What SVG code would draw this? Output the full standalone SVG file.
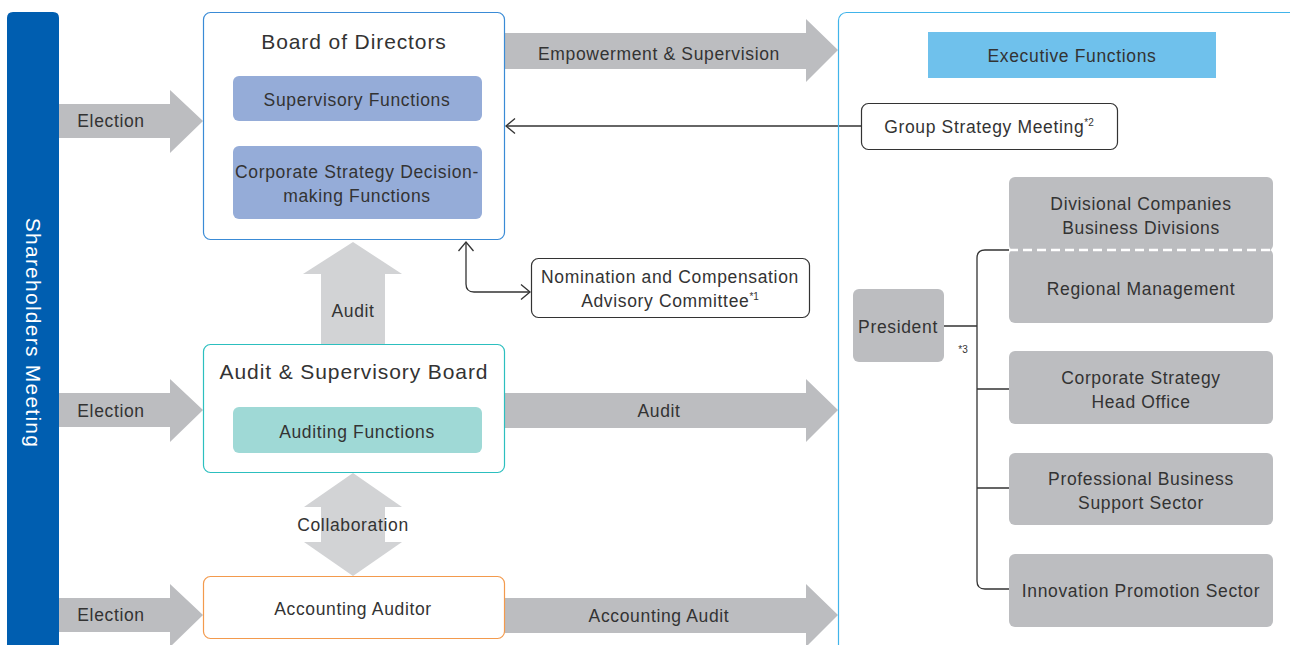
<svg xmlns="http://www.w3.org/2000/svg" width="1290" height="645" viewBox="0 0 1290 645">
<defs>
<style>
.t{font-family:"Liberation Sans",Arial,sans-serif;fill:#333;text-anchor:middle;font-size:17.5px;letter-spacing:0.65px}
.h{font-size:21px;letter-spacing:0.9px}
.sh{font-size:21px;letter-spacing:1.25px;fill:#fff}
.sup{font-size:10px;letter-spacing:0}
.big{fill:#bcbdc0}
.lt{fill:#d2d3d5}
.ln{fill:none;stroke:#333;stroke-width:1.3}
.gb{fill:#bcbdc0}
</style>
<marker id="chev" viewBox="-12 -9 14 18" refX="0" refY="0" markerWidth="14" markerHeight="18" orient="auto-start-reverse" markerUnits="userSpaceOnUse">
<path d="M-9,-7.5 L0,0 L-9,7.5" fill="none" stroke="#333" stroke-width="1.3"/>
</marker>
</defs>
<rect width="1290" height="645" fill="#fff"/>

<g id="shareholders">
<path d="M7,645 V18 Q7,12 13,12 H53 Q59,12 59,18 V645 Z" fill="#005eb0"/>
<text class="t sh" transform="translate(26,333) rotate(90)">Shareholders Meeting</text>
</g>

<g id="connectors">
<polygon class="big" points="59,104 170,104 170,90 203,121 170,153 170,138 59,138"/>
<polygon class="big" points="59,393 170,393 170,379 203,410 170,442 170,427 59,427"/>
<polygon class="big" points="59,598 170,598 170,584 203,615 170,647 170,632 59,632"/>
<polygon class="big" points="505,33 806,33 806,19 838,50 806,82 806,69 505,69"/>
<polygon class="big" points="505,393 806,393 806,379 838,410 806,442 806,428 505,428"/>
<polygon class="big" points="505,598 806,598 806,584 838,615 806,647 806,633 505,633"/>
<polygon class="lt" points="353,242 402,274 385,274 385,345 321,345 321,274 303,274"/>
<polygon class="lt" points="353,473 402,507 385,507 385,542 402,542 353,576 304,542 321,542 321,507 304,507"/>
<text class="t" x="111" y="127">Election</text>
<text class="t" x="111" y="417">Election</text>
<text class="t" x="111" y="621">Election</text>
<text class="t" x="659" y="60">Empowerment &amp; Supervision</text>
<text class="t" x="659" y="417">Audit</text>
<text class="t" x="659" y="622">Accounting Audit</text>
<text class="t" x="353" y="317">Audit</text>
<text class="t" x="353" y="531">Collaboration</text>
<path class="ln" d="M861,126 H506" marker-end="url(#chev)"/>
<path class="ln" d="M466,242 V284 Q466,292 474,292 H530" marker-start="url(#chev)" marker-end="url(#chev)"/>
<path class="ln" d="M1009,250 H985 Q977,250 977,258 V581 Q977,589 985,589 H1009"/>
<path class="ln" d="M944,326 H977 M977,389 H1009 M977,488 H1009"/>
<text class="t sup" x="963" y="353">*3</text>
</g>

<g id="board">
<rect x="203.5" y="12.5" width="301" height="227" rx="7" fill="#fff" stroke="#3a8bd6" stroke-width="1.2"/>
<text class="t h" x="354" y="49">Board of Directors</text>
<rect x="233" y="76" width="249" height="45" rx="6" fill="#95acd8"/>
<text class="t" x="357" y="106">Supervisory Functions</text>
<rect x="233" y="146" width="249" height="73" rx="6" fill="#95acd8"/>
<text class="t" x="357" y="178">Corporate Strategy Decision-</text>
<text class="t" x="357" y="202">making Functions</text>
</g>

<g id="asb">
<rect x="203.5" y="344.5" width="301" height="128" rx="7" fill="#fff" stroke="#2cbfbf" stroke-width="1.2"/>
<text class="t h" x="354" y="379">Audit &amp; Supervisory Board</text>
<rect x="233" y="407" width="249" height="46" rx="6" fill="#9fd9d6"/>
<text class="t" x="357" y="438">Auditing Functions</text>
</g>

<g id="accounting-auditor">
<rect x="203.5" y="576.5" width="301" height="62" rx="7" fill="#fff" stroke="#f39a4d" stroke-width="1.2"/>
<text class="t" x="353" y="615">Accounting Auditor</text>
</g>

<g id="nomination">
<rect x="531.5" y="258.5" width="278" height="59" rx="7" fill="#fff" stroke="#333" stroke-width="1.2"/>
<text class="t" x="670" y="283">Nomination and Compensation</text>
<text class="t" x="670" y="307">Advisory Committee<tspan class="sup" dy="-7">*1</tspan></text>
</g>

<g id="executive">
<rect x="838.5" y="12.5" width="470" height="650" rx="8" fill="none" stroke="#41b4ea" stroke-width="1.2"/>
<rect x="928" y="32" width="288" height="46" fill="#6fc1ec"/>
<text class="t" x="1072" y="62">Executive Functions</text>
</g>

<g id="group-strategy">
<rect x="861.5" y="103.5" width="256" height="46" rx="7" fill="#fff" stroke="#333" stroke-width="1.2"/>
<text class="t" x="989" y="133">Group Strategy Meeting<tspan class="sup" dy="-7">*2</tspan></text>
</g>

<g id="president">
<rect class="gb" x="853" y="289" width="91" height="73" rx="6"/>
<text class="t" x="898" y="333">President</text>
</g>

<g id="divisional">
<rect class="gb" x="1009" y="177" width="264" height="74" rx="6"/>
<text class="t" x="1141" y="210">Divisional Companies</text>
<text class="t" x="1141" y="234">Business Divisions</text>
</g>
<g id="regional">
<rect class="gb" x="1009" y="249" width="264" height="74" rx="6"/>
<text class="t" x="1141" y="295">Regional Management</text>
<path d="M1009,250 H1273" stroke="#fff" stroke-width="2.5" stroke-dasharray="9,5" fill="none"/>
</g>
<g id="corporate-strategy">
<rect class="gb" x="1009" y="351" width="264" height="73" rx="6"/>
<text class="t" x="1141" y="384">Corporate Strategy</text>
<text class="t" x="1141" y="408">Head Office</text>
</g>
<g id="professional">
<rect class="gb" x="1009" y="453" width="264" height="72" rx="6"/>
<text class="t" x="1141" y="485">Professional Business</text>
<text class="t" x="1141" y="509">Support Sector</text>
</g>
<g id="innovation">
<rect class="gb" x="1009" y="554" width="264" height="73" rx="6"/>
<text class="t" x="1141" y="597">Innovation Promotion Sector</text>
</g>
</svg>
